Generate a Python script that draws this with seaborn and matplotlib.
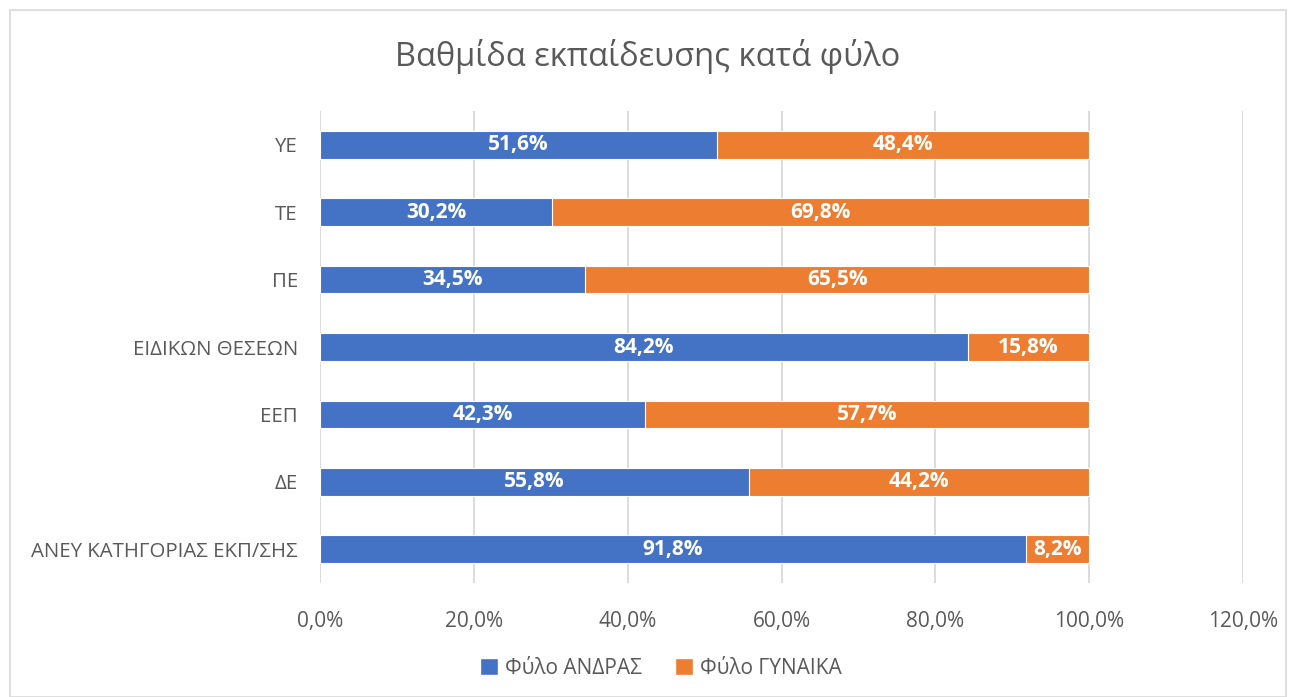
import matplotlib
matplotlib.use("Agg")
import matplotlib.pyplot as plt
import seaborn as sns
import pandas as pd
from matplotlib.patches import Rectangle, Patch

categories = ["ΥΕ", "ΤΕ", "ΠΕ", "ΕΙΔΙΚΩΝ ΘΕΣΕΩΝ", "ΕΕΠ", "ΔΕ", "ΑΝΕΥ ΚΑΤΗΓΟΡΙΑΣ ΕΚΠ/ΣΗΣ"]
male = [51.6, 30.2, 34.5, 84.2, 42.3, 55.8, 91.8]
female = [48.4, 69.8, 65.5, 15.8, 57.7, 44.2, 8.2]
xticks = [0, 20, 40, 60, 80, 100, 120]
xtick_labels = ["0,0%", "20,0%", "40,0%", "60,0%", "80,0%", "100,0%", "120,0%"]
title = "Βαθμίδα εκπαίδευσης κατά φύλο"
legend_labels = ["Φύλο ΑΝΔΡΑΣ", "Φύλο ΓΥΝΑΙΚΑ"]

BLUE = "#4472C4"
ORANGE = "#ED7D31"
TEXT = "#595959"
GRID = "#D9D9D9"

sns.set_theme(style="white")
plt.rcParams["font.family"] = ["Open Sans", "DejaVu Sans"]

df = pd.DataFrame({"cat": categories, "male": male, "female": female})
df["total"] = df["male"] + df["female"]

fig = plt.figure(figsize=(12.96, 6.97), dpi=100)
ax = fig.add_axes([320 / 1296, 1 - 583 / 697, 923 / 1296, 472 / 697])

sns.barplot(data=df, y="cat", x="total", color=ORANGE, saturation=1, orient="h", width=0.41,
            ax=ax, edgecolor="white", linewidth=0.8, zorder=3)
sns.barplot(data=df, y="cat", x="male", color=BLUE, saturation=1, orient="h", width=0.41,
            ax=ax, edgecolor="white", linewidth=0.8, zorder=4)

# labels
for i, (m, f) in enumerate(zip(male, female)):
    ax.text(m / 2, i, f"{m:.1f}%".replace(".", ","), ha="center", va="center",
            color="white", fontsize=15, fontweight="bold", zorder=5)
    ax.text(m + f / 2, i, f"{f:.1f}%".replace(".", ","), ha="center", va="center",
            color="white", fontsize=15, fontweight="bold", zorder=5)

ax.set_xlim(0, 120)
ax.set_ylim(6.5, -0.5)
ax.set_xticks(xticks)
ax.set_xticklabels(xtick_labels)
ax.set_xlabel("")
ax.set_ylabel("")
ax.grid(axis="x", color=GRID, linewidth=1.3, zorder=0)
ax.set_axisbelow(True)
for s in ax.spines.values():
    s.set_visible(False)
ax.tick_params(axis="both", length=0, labelsize=15, colors=TEXT)
ax.tick_params(axis="y", labelsize=14.7, pad=16)
ax.tick_params(axis="x", pad=20)

fig.text(0.5, 1 - 56 / 697, title, ha="center", va="center", fontsize=23.5, color=TEXT)

handles = [Patch(facecolor=BLUE), Patch(facecolor=ORANGE)]
fig.legend(handles, legend_labels, loc="center", bbox_to_anchor=(0.51, 1 - 668 / 697),
           ncol=2, frameon=False, fontsize=15, labelcolor=TEXT,
           handlelength=0.85, handleheight=0.85, handletextpad=0.35, columnspacing=1.6)

fig.patches.append(Rectangle((10 / 1296, 0), 1 - 20 / 1296, 1 - 10 / 697, transform=fig.transFigure,
                             fill=False, edgecolor=GRID, linewidth=1.2))

fig.savefig("out.png", dpi=100)
